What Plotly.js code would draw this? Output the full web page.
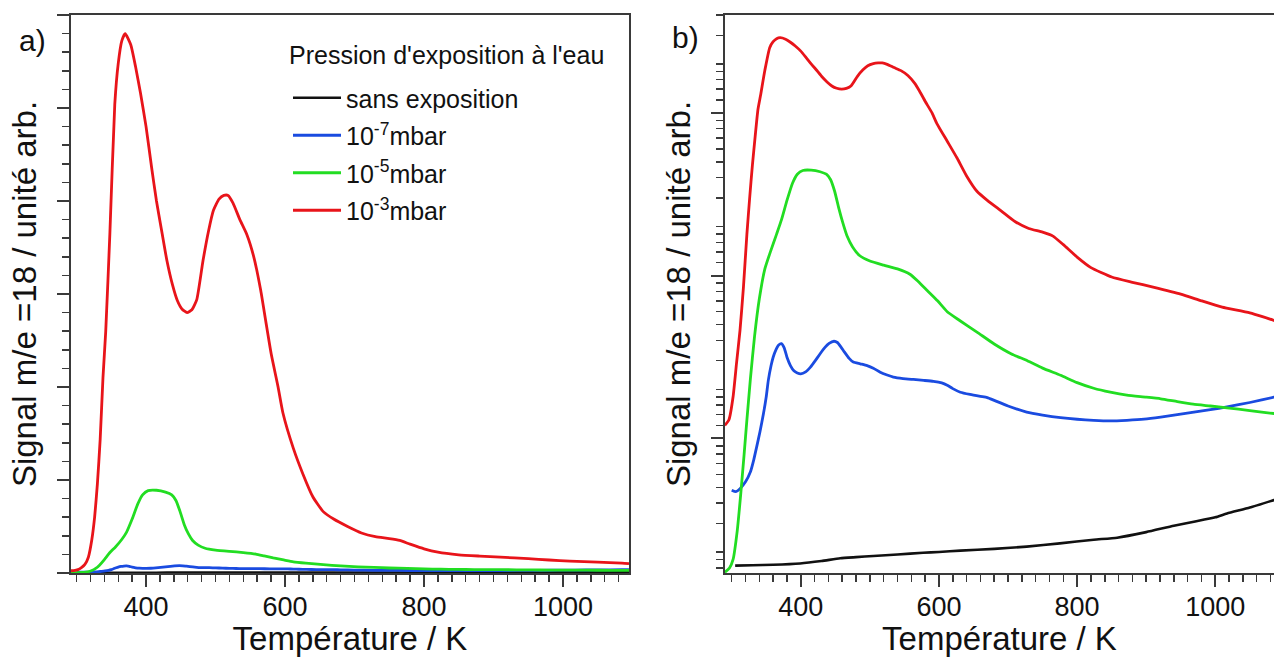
<!DOCTYPE html>
<html><head><meta charset="utf-8">
<script src="https://cdn.plot.ly/plotly-3.0.1.min.js"></script>
<style>html,body{margin:0;padding:0;background:#fff;overflow:hidden}#chart{width:1274px;height:657px}</style>
</head><body><div id="chart"></div>
<script>
// Température / K and signal (arb. units) per series
const tempBlack = [305,330,360,399,430,457,480,505,540,577,600,631,680,727,775,824,858,900,940,969,1000,1017,1050,1085,1095];
const sigBlack  = [0.165,0.166,0.167,0.170,0.176,0.183,0.186,0.189,0.193,0.198,0.200,0.204,0.209,0.216,0.226,0.238,0.245,0.265,0.29,0.307,0.327,0.345,0.375,0.417,0.43];

const tempBlue = [300,306,312,320,327,332,336,341,346,350,353,357,360,364,368,372,376,380,385,390,395,400,407,414,421,428,435,441,448,453,458,463,470,476,486,496,505,515,525,534,548,563,578,592,604,612,620,631,645,660,670,680,700,727,750,776,800,824,848,872,897,921,945,969,993,1017,1050,1085,1095];
const sigBlue  = [0.48,0.47,0.49,0.54,0.62,0.74,0.88,1.1,1.42,1.8,2.27,2.8,3.15,3.5,3.75,3.82,3.6,3.15,2.8,2.6,2.52,2.49,2.56,2.74,3.0,3.31,3.62,3.83,3.95,3.88,3.65,3.4,3.1,2.94,2.87,2.8,2.7,2.55,2.45,2.38,2.33,2.30,2.27,2.24,2.19,2.12,2.02,1.92,1.86,1.81,1.78,1.71,1.58,1.45,1.39,1.34,1.31,1.29,1.28,1.29,1.31,1.35,1.40,1.45,1.50,1.56,1.66,1.79,1.83];

const tempGreen = [290,297,302,308,313,318,322,327,333,340,348,356,365,372,380,388,395,403,415,428,437,443,449,455,461,467,475,485,500,520,540,558,570,583,598,612,630,655,680,705,728,750,776,800,824,848,872,900,921,945,968,993,1017,1050,1085,1095];
const sigGreen  = [0.15,0.16,0.18,0.27,0.45,0.8,1.3,2.3,4.2,7.2,11,14,18,22,29,37,42,44.3,44.5,43.5,42,39,33,26,21,17.5,15,13.3,12.3,11.6,11,10.2,9.2,8.1,7,6,5.3,4.5,3.8,3.3,3.0,2.7,2.44,2.2,2.03,1.92,1.84,1.79,1.75,1.68,1.62,1.58,1.54,1.48,1.42,1.40];

const tempRed = [290,296,302,307,312,317,322,326,330,334,338,342,348,355,360,365,370,378,385,392,400,408,415,422,430,438,445,452,459,466,473,482,490,497,505,512,518,525,535,545,555,565,572,580,590,597,612,626,640,655,670,690,710,730,750,765,780,800,820,850,880,910,950,980,1010,1050,1085,1095];
const sigRed  = [1.2,1.3,1.8,2.9,4.6,8.5,18,30,48,72,105,130,183,252,274,286,290,284,272,258,240,218,200,185,168,155,146.5,141.8,140,141.5,147,168,184,195,201,203,203,199,190,182,170,152,136,118,100,86,67,53,41,33,29,25,21.5,19.5,18.5,17.5,15.5,13,11.2,9.8,9.1,8.5,7.7,7,6.4,5.9,5.3,5.0];

const seriesNames = ['sans exposition','10<sup>-7</sup>mbar','10<sup>-5</sup>mbar','10<sup>-3</sup>mbar'];
const seriesColors = ['#111111','#1a4be0','#22dd22','#e8141a'];
const legendTitle = "Pression d'exposition à l'eau";
const xTitle = 'Température / K';
const yTitle = 'Signal m/e =18 / unité arb.';
const xTickVals = [400,600,800,1000];
const panelLabels = ['a)','b)'];

const temps = [tempBlack,tempBlue,tempGreen,tempRed];
const sigs = [sigBlack,sigBlue,sigGreen,sigRed];

const traces = [];
for (let i=0;i<4;i++){
  traces.push({x:temps[i],y:sigs[i],type:'scatter',mode:'lines',name:seriesNames[i],
    line:{color:seriesColors[i],width:i===0?2.6:2.8,shape:'spline',smoothing:0.5},xaxis:'x',yaxis:'y',showlegend:true,legendgroup:'g'+i});
}
for (let i=0;i<4;i++){
  traces.push({x:temps[i],y:sigs[i],type:'scatter',mode:'lines',name:seriesNames[i],
    line:{color:seriesColors[i],width:i===0?2.6:2.8,shape:'spline',smoothing:0.5},xaxis:'x2',yaxis:'y2',showlegend:false,legendgroup:'g'+i});
}

const minorX=[]; for(let t=300;t<=1100;t+=20){ if(t%200!==0) minorX.push(t); }
const minorYlin=[]; for(let v=0;v<=300;v+=10){ if(v%50!==0) minorYlin.push(v); }
const minorYlog=[]; [0.1,1,10,100].forEach(d=>{[1.2,1.4,1.6,1.8,2,3,4,5,6,7,8,9].forEach(m=>minorYlog.push(+(d*m).toPrecision(3)));});

const ax = '#3a3a3a';
const FONT = 'Liberation Sans, Arial, sans-serif';
const yb = 1-573/657, yt = 1-15/657;
function xaxisDef(domain, range, anchor){
  return {domain:domain, range:range, anchor:anchor, tickmode:'array', tickvals:xTickVals, ticks:'outside', ticklen:12, tickwidth:2, tickcolor:ax,
    showline:true, linecolor:ax, linewidth:2, mirror:true, showgrid:false, zeroline:false,
    tickfont:{family:FONT,size:27,color:'#111'}, ticklabelstandoff:-3,
    minor:{tickmode:'array', tickvals:minorX, ticks:'outside', ticklen:7, tickwidth:1.5, tickcolor:ax, showgrid:false},
    title:{text:xTitle, font:{family:FONT,size:33,color:'#111'}, standoff:3}, automargin:false};
}
function yaxisDef(anchor, extra){
  return Object.assign({domain:[yb,yt], anchor:anchor, showticklabels:false, tickmode:'array',
    ticks:'outside', ticklen:12, tickwidth:2, tickcolor:ax, showline:true, linecolor:ax, linewidth:2,
    showgrid:false, zeroline:false,
    title:{text:yTitle, font:{family:FONT,size:33,color:'#111'}, standoff:10}, automargin:false}, extra);
}
const layout = {
  width:1274, height:657, margin:{l:0,r:0,t:0,b:0}, paper_bgcolor:'#fff', plot_bgcolor:'#fff',
  showlegend:true,
  xaxis: xaxisDef([71/1274, 629/1274],[292,1095],'y'),
  xaxis2: xaxisDef([725/1274, 1],[290.3,1085],'y2'),
  yaxis: yaxisDef('x', {range:[0,300], tickvals:[0,50,100,150,200,250,300], mirror:true,
    minor:{tickmode:'array', tickvals:minorYlin, ticks:'outside', ticklen:7, tickwidth:1.5, tickcolor:ax, showgrid:false}}),
  yaxis2: yaxisDef('x2', {type:'log', range:[Math.log10(0.1486), Math.log10(400)], tickvals:[0.1,1,10,100], mirror:false,
    minor:{tickmode:'array', tickvals:minorYlog, ticks:'outside', ticklen:7, tickwidth:1.5, tickcolor:ax, showgrid:false}}),
  legend:{x:288/1274, y:1-75/657, xanchor:'left', yanchor:'top', bgcolor:'rgba(0,0,0,0)', borderwidth:0,
    font:{family:FONT,size:25,color:'#111'}, itemwidth:48,
    tracegroupgap:2, traceorder:'grouped'},
  annotations:[
    {text:legendTitle, xref:'paper', yref:'paper', x:287/1274, y:1-55/657, xanchor:'left', yanchor:'middle', showarrow:false, font:{family:FONT,size:25,color:'#111'}},
    {text:panelLabels[0], xref:'paper', yref:'paper', x:32/1274, y:1-40/657, xanchor:'center', yanchor:'middle', showarrow:false, font:{family:FONT,size:30,color:'#111'}},
    {text:panelLabels[1], xref:'paper', yref:'paper', x:685/1274, y:1-37/657, xanchor:'center', yanchor:'middle', showarrow:false, font:{family:FONT,size:30,color:'#111'}}
  ]
};
Plotly.newPlot('chart', traces, layout, {staticPlot:true, displayModeBar:false});
</script></body></html>
